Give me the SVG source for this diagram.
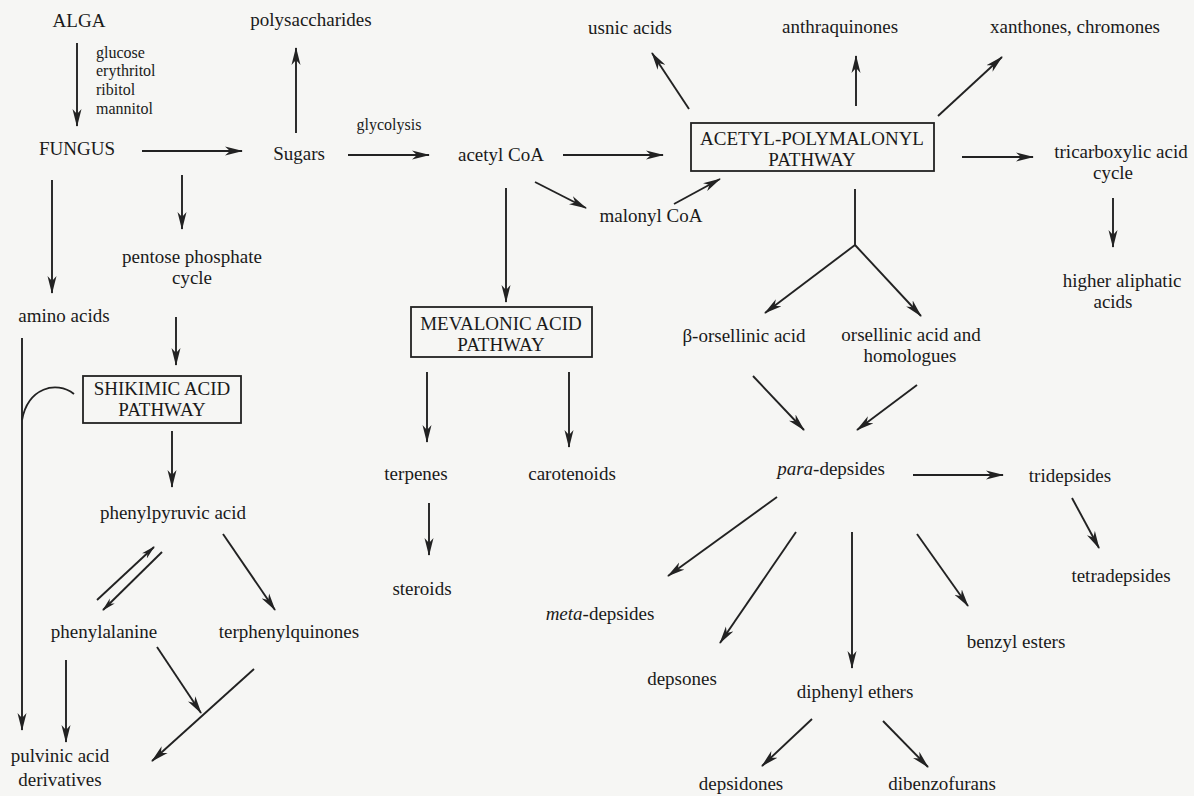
<svg xmlns="http://www.w3.org/2000/svg" width="1194" height="796" viewBox="0 0 1194 796">
<style>
text{font-family:"Liberation Serif","Times New Roman",serif;font-size:19px;fill:#1a1a1a;text-anchor:middle}
text.s{font-size:16px;text-anchor:start}
text.g{font-size:16px}
.box{fill:none;stroke:#222;stroke-width:1.8}
#connectors path{fill:none;stroke:#222;stroke-width:1.9}
.a{marker-end:url(#ah)}
.sa{marker-end:url(#sh)}
</style>
<defs>
<marker id="ah" markerUnits="userSpaceOnUse" markerWidth="18" markerHeight="10" viewBox="0 0 18 10" refX="17" refY="5" orient="auto">
<path d="M0,0.5 L18,5 L0,9.5 L5,5 z" fill="#222"/>
</marker>
<marker id="sh" markerUnits="userSpaceOnUse" markerWidth="14" markerHeight="8" viewBox="0 0 14 8" refX="13" refY="4" orient="auto">
<path d="M0,0.5 L14,4 L0,7.5 L4,4 z" fill="#222"/>
</marker>
</defs>
<rect width="1194" height="796" fill="#f6f6f4"/>

<g id="connectors">
<path class="a" d="M77,43 L77,126"/>
<path class="a" d="M142,151 L242,151"/>
<path class="a" d="M296,133 L296,48"/>
<path class="a" d="M348,155 L429,155"/>
<path class="a" d="M563,155 L663,155"/>
<path class="a" d="M535,182 L586,208"/>
<path class="a" d="M674,204 L720,179"/>
<path class="a" d="M689,109 L652,53"/>
<path class="a" d="M856,106 L856,56"/>
<path class="a" d="M938,116 L1002,57"/>
<path class="a" d="M962,157 L1033,157"/>
<path class="a" d="M1113,198 L1113,247"/>
<path d="M855,189 L855,245"/>
<path class="a" d="M855,245 L765,313"/>
<path class="a" d="M855,245 L921,316"/>
<path class="a" d="M506,188 L506,302"/>
<path class="a" d="M427,372 L427,442"/>
<path class="a" d="M569,372 L569,447"/>
<path class="a" d="M429,503 L429,555"/>
<path class="a" d="M52,180 L52,293"/>
<path class="a" d="M182,175 L182,229"/>
<path class="a" d="M176,317 L176,365"/>
<path class="a" d="M172,431 L172,487"/>
<path class="a" d="M22,338 L22,730"/>
<path d="M74,394 C56,380 28,388 22,420"/>
<path class="sa" d="M97,600 L154,547"/>
<path class="sa" d="M162,552 L103,610"/>
<path class="a" d="M223,534 L275,610"/>
<path class="a" d="M66,660 L66,742"/>
<path class="a" d="M157,647 L201,713"/>
<path class="a" d="M254,669 L152,761"/>
<path class="a" d="M753,376 L804,430"/>
<path class="a" d="M917,385 L857,430"/>
<path class="a" d="M913,475 L1003,475"/>
<path class="a" d="M1072,498 L1099,548"/>
<path class="a" d="M777,497 L668,576"/>
<path class="a" d="M796,532 L720,643"/>
<path class="a" d="M852,532 L852,668"/>
<path class="a" d="M917,534 L968,606"/>
<path class="a" d="M812,719 L762,766"/>
<path class="a" d="M883,721 L928,767"/>
</g>

<g id="labels">
<text class="s" x="96" y="58">glucose</text>
<text class="s" x="96" y="76">erythritol</text>
<text class="s" x="96" y="95">ribitol</text>
<text class="s" x="96" y="114">mannitol</text>
<text class="g" x="389" y="130">glycolysis</text>
</g>

<g id="alga"><text x="79" y="27">ALGA</text></g>
<g id="fungus"><text x="77" y="155">FUNGUS</text></g>
<g id="polysaccharides"><text x="311" y="26">polysaccharides</text></g>
<g id="sugars"><text x="299" y="160">Sugars</text></g>
<g id="acetyl-coa"><text x="501" y="161">acetyl CoA</text></g>
<g id="malonyl-coa"><text x="651" y="222">malonyl CoA</text></g>
<g id="usnic-acids"><text x="630" y="34">usnic acids</text></g>
<g id="anthraquinones"><text x="840" y="33">anthraquinones</text></g>
<g id="xanthones"><text x="1075" y="33">xanthones, chromones</text></g>
<g id="acetyl-polymalonyl">
<rect class="box" x="691" y="123" width="243" height="48"/>
<text x="812" y="145">ACETYL-POLYMALONYL</text>
<text x="812" y="166">PATHWAY</text>
</g>
<g id="tca"><text x="1121" y="158">tricarboxylic acid</text><text x="1113" y="179">cycle</text></g>
<g id="higher-aliphatic"><text x="1122" y="287">higher aliphatic</text><text x="1113" y="308">acids</text></g>
<g id="pentose"><text x="192" y="263">pentose phosphate</text><text x="192" y="284">cycle</text></g>
<g id="amino-acids"><text x="64" y="322">amino acids</text></g>
<g id="shikimic">
<rect class="box" x="83" y="376" width="158" height="47"/>
<text x="162" y="395">SHIKIMIC ACID</text>
<text x="162" y="416">PATHWAY</text>
</g>
<g id="phenylpyruvic"><text x="173" y="519">phenylpyruvic acid</text></g>
<g id="mevalonic">
<rect class="box" x="411" y="307" width="181" height="50"/>
<text x="501" y="330">MEVALONIC ACID</text>
<text x="501" y="351">PATHWAY</text>
</g>
<g id="terpenes"><text x="416" y="480">terpenes</text></g>
<g id="carotenoids"><text x="572" y="480">carotenoids</text></g>
<g id="steroids"><text x="422" y="595">steroids</text></g>
<g id="phenylalanine"><text x="104" y="638">phenylalanine</text></g>
<g id="terphenylquinones"><text x="289" y="638">terphenylquinones</text></g>
<g id="pulvinic"><text x="60" y="762">pulvinic acid</text><text x="60" y="786">derivatives</text></g>
<g id="b-orsellinic"><text x="744" y="342">β-orsellinic acid</text></g>
<g id="orsellinic"><text x="911" y="341">orsellinic acid and</text><text x="910" y="362">homologues</text></g>
<g id="para-depsides"><text x="831" y="475"><tspan font-style="italic">para</tspan>-depsides</text></g>
<g id="tridepsides"><text x="1070" y="482">tridepsides</text></g>
<g id="tetradepsides"><text x="1121" y="582">tetradepsides</text></g>
<g id="meta-depsides"><text x="600" y="620"><tspan font-style="italic">meta</tspan>-depsides</text></g>
<g id="depsones"><text x="682" y="685">depsones</text></g>
<g id="diphenyl-ethers"><text x="855" y="698">diphenyl ethers</text></g>
<g id="benzyl-esters"><text x="1016" y="648">benzyl esters</text></g>
<g id="depsidones"><text x="741" y="790">depsidones</text></g>
<g id="dibenzofurans"><text x="942" y="790">dibenzofurans</text></g>
</svg>
